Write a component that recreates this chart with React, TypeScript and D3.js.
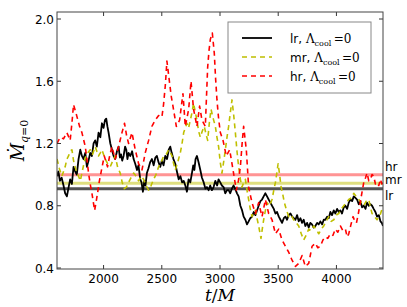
import React from 'react';
import * as d3 from 'd3';

// [t/M, Mdot] pairs
const lrData: [number, number][] = [
  [1600, 0.99], [1612, 1.02], [1625, 0.96], [1640, 0.98], [1656, 0.93], [1670, 0.88], [1685, 0.86],
  [1700, 0.92], [1713, 0.97], [1728, 0.94], [1742, 1.05], [1756, 1.02], [1770, 1.0], [1785, 1.1],
  [1800, 1.16], [1814, 1.12], [1828, 1.1], [1843, 1.14], [1857, 1.05], [1871, 1.09], [1885, 1.14],
  [1900, 1.12], [1914, 1.2], [1928, 1.22], [1942, 1.18], [1957, 1.27], [1972, 1.24], [1986, 1.33],
  [2000, 1.3], [2012, 1.35], [2023, 1.36], [2033, 1.31], [2043, 1.27], [2058, 1.2], [2072, 1.16],
  [2086, 1.12], [2100, 1.1], [2115, 1.15], [2129, 1.18], [2140, 1.11], [2150, 1.13], [2160, 1.09],
  [2172, 1.12], [2185, 1.18], [2195, 1.16], [2205, 1.1], [2215, 1.14], [2230, 1.12], [2245, 1.15],
  [2258, 1.1], [2272, 1.07], [2287, 1.03], [2300, 1.06], [2315, 0.97], [2326, 0.95], [2338, 0.89],
  [2350, 0.96], [2360, 0.93], [2372, 1.01], [2385, 1.04], [2400, 1.08], [2415, 1.1], [2430, 1.06],
  [2445, 1.11], [2458, 1.12], [2472, 1.08], [2487, 1.05], [2500, 1.09], [2515, 1.06], [2530, 1.12],
  [2545, 1.1], [2560, 1.16], [2573, 1.18], [2585, 1.14], [2600, 1.1], [2616, 1.07], [2630, 1.02],
  [2645, 0.97], [2660, 0.99], [2675, 0.95], [2688, 0.96], [2702, 0.93], [2716, 0.89], [2730, 0.97],
  [2745, 0.95], [2759, 1.01], [2770, 1.06], [2780, 1.03], [2790, 1.1], [2802, 1.12], [2816, 1.08],
  [2831, 1.03], [2845, 0.98], [2860, 0.95], [2875, 0.91], [2888, 0.92], [2902, 0.9], [2916, 0.93],
  [2930, 0.9], [2945, 0.92], [2960, 0.96], [2975, 0.93], [2988, 0.97], [3002, 0.95], [3016, 0.93],
  [3031, 0.92], [3045, 0.88], [3060, 0.9], [3074, 0.9], [3088, 0.88], [3102, 0.91], [3117, 0.93],
  [3130, 0.91], [3146, 0.88], [3160, 0.86], [3175, 0.8], [3190, 0.77], [3203, 0.73], [3218, 0.71],
  [3232, 0.68], [3246, 0.7], [3260, 0.72], [3275, 0.73], [3290, 0.76], [3304, 0.74], [3318, 0.77],
  [3332, 0.8], [3347, 0.83], [3361, 0.84], [3375, 0.86], [3390, 0.88], [3404, 0.86], [3418, 0.84],
  [3433, 0.82], [3447, 0.8], [3462, 0.78], [3476, 0.75], [3490, 0.76], [3505, 0.73], [3519, 0.71],
  [3533, 0.69], [3548, 0.72], [3562, 0.73], [3576, 0.71], [3590, 0.74], [3605, 0.75], [3620, 0.73],
  [3634, 0.72], [3648, 0.71], [3662, 0.74], [3676, 0.7], [3691, 0.72], [3705, 0.69], [3719, 0.71],
  [3733, 0.67], [3748, 0.69], [3762, 0.66], [3776, 0.69], [3790, 0.68], [3805, 0.66], [3819, 0.67],
  [3834, 0.69], [3848, 0.68], [3862, 0.7], [3877, 0.68], [3891, 0.71], [3905, 0.71], [3920, 0.73],
  [3934, 0.72], [3948, 0.76], [3962, 0.74], [3977, 0.77], [3991, 0.75], [4006, 0.78], [4020, 0.76],
  [4034, 0.77], [4048, 0.75], [4063, 0.79], [4077, 0.8], [4092, 0.78], [4106, 0.82], [4120, 0.84],
  [4135, 0.83], [4149, 0.86], [4163, 0.85], [4177, 0.84], [4192, 0.81], [4206, 0.83], [4220, 0.79],
  [4235, 0.8], [4250, 0.78], [4263, 0.82], [4278, 0.8], [4292, 0.81], [4306, 0.8], [4320, 0.78],
  [4335, 0.76], [4349, 0.73], [4364, 0.74], [4378, 0.7], [4390, 0.69], [4400, 0.67],
];

const mrData: [number, number][] = [
  [1600, 1.1], [1620, 1.04], [1642, 0.99], [1656, 1.02], [1670, 1.05], [1685, 1.1], [1699, 1.12],
  [1713, 1.15], [1728, 1.16], [1742, 1.09], [1756, 1.05], [1770, 1.01], [1785, 0.99], [1800, 0.96],
  [1814, 1.01], [1828, 1.06], [1843, 1.11], [1865, 1.14], [1885, 1.16], [1905, 1.13], [1928, 1.18],
  [1942, 1.15], [1957, 1.12], [1972, 1.14], [1986, 1.16], [2000, 1.13], [2014, 1.1], [2035, 1.07],
  [2057, 1.05], [2080, 1.09], [2100, 1.12], [2120, 1.05], [2143, 1.01], [2160, 0.95], [2178, 0.91],
  [2196, 0.92], [2215, 0.95], [2236, 0.98], [2258, 1.01], [2280, 0.99], [2301, 0.96], [2322, 0.99],
  [2344, 0.97], [2365, 0.93], [2387, 0.9], [2408, 0.93], [2430, 0.97], [2450, 1.0], [2473, 1.05],
  [2495, 1.08], [2516, 1.12], [2538, 1.13], [2559, 1.16], [2574, 1.14], [2588, 1.12], [2602, 1.07],
  [2616, 1.03], [2637, 1.08], [2659, 1.14], [2674, 1.2], [2688, 1.27], [2702, 1.3], [2716, 1.33],
  [2730, 1.3], [2745, 1.35], [2760, 1.4], [2773, 1.46], [2788, 1.4], [2802, 1.35], [2816, 1.28],
  [2831, 1.24], [2848, 1.28], [2865, 1.31], [2880, 1.26], [2894, 1.22], [2908, 1.33], [2923, 1.42],
  [2942, 1.36], [2960, 1.31], [2974, 1.24], [2988, 1.18], [3002, 1.08], [3017, 1.01], [3031, 1.08],
  [3046, 1.16], [3060, 1.24], [3074, 1.31], [3089, 1.4], [3103, 1.48], [3118, 1.38], [3132, 1.27],
  [3146, 1.15], [3160, 1.05], [3175, 0.97], [3189, 0.92], [3204, 0.95], [3218, 0.97], [3232, 0.9],
  [3246, 0.84], [3260, 0.78], [3275, 0.73], [3290, 0.76], [3304, 0.77], [3318, 0.72], [3332, 0.67],
  [3342, 0.63], [3352, 0.59], [3363, 0.65], [3375, 0.71], [3390, 0.77], [3404, 0.82], [3425, 0.8],
  [3447, 0.84], [3462, 0.9], [3476, 0.95], [3488, 1.01], [3499, 1.07], [3512, 1.0], [3525, 0.92],
  [3540, 0.87], [3553, 0.82], [3572, 0.77], [3591, 0.73], [3612, 0.74], [3633, 0.71], [3655, 0.69],
  [3676, 0.67], [3698, 0.62], [3719, 0.58], [3740, 0.61], [3762, 0.65], [3784, 0.64], [3805, 0.67],
  [3826, 0.65], [3848, 0.62], [3870, 0.65], [3891, 0.67], [3912, 0.7], [3934, 0.73], [3955, 0.7],
  [3977, 0.71], [3998, 0.74], [4020, 0.75], [4042, 0.78], [4063, 0.8], [4085, 0.82], [4106, 0.84],
  [4128, 0.85], [4149, 0.88], [4170, 0.86], [4192, 0.84], [4214, 0.82], [4235, 0.8], [4256, 0.83],
  [4278, 0.84], [4292, 0.79], [4306, 0.75], [4328, 0.73], [4349, 0.71], [4375, 0.74], [4400, 0.8],
];

const hrData: [number, number][] = [
  [1600, 1.2], [1627, 1.24], [1656, 1.23], [1685, 1.27], [1713, 1.22], [1728, 1.33], [1742, 1.45],
  [1765, 1.39], [1794, 1.31], [1814, 1.27], [1843, 1.18], [1857, 1.1], [1871, 1.01], [1885, 0.94],
  [1900, 0.88], [1923, 0.77], [1935, 0.82], [1948, 0.88], [1962, 0.95], [1977, 1.01], [2006, 1.12],
  [2034, 1.05], [2052, 1.12], [2072, 1.18], [2100, 1.1], [2129, 1.18], [2158, 1.27], [2180, 1.33],
  [2198, 1.25], [2215, 1.2], [2244, 1.27], [2272, 1.16], [2301, 1.07], [2330, 1.03], [2358, 1.14],
  [2387, 1.22], [2415, 1.31], [2444, 1.35], [2473, 1.38], [2501, 1.37], [2515, 1.45], [2530, 1.57],
  [2544, 1.73], [2567, 1.59], [2582, 1.5], [2596, 1.44], [2625, 1.31], [2653, 1.35], [2668, 1.44],
  [2682, 1.52], [2702, 1.31], [2731, 1.42], [2751, 1.6], [2773, 1.42], [2802, 1.31], [2825, 1.44],
  [2845, 1.35], [2874, 1.31], [2884, 1.5], [2894, 1.69], [2906, 1.8], [2917, 1.87], [2934, 1.91],
  [2951, 1.78], [2962, 1.62], [2974, 1.48], [2988, 1.36], [3003, 1.27], [3026, 1.22], [3054, 1.12],
  [3083, 1.16], [3112, 1.03], [3140, 0.9], [3158, 0.96], [3175, 1.05], [3190, 1.2], [3203, 1.31],
  [3226, 1.16], [3246, 0.92], [3260, 0.87], [3275, 0.82], [3304, 0.75], [3332, 0.82], [3361, 0.73],
  [3390, 0.84], [3418, 0.75], [3447, 0.71], [3476, 0.62], [3504, 0.65], [3533, 0.58], [3562, 0.54],
  [3591, 0.5], [3619, 0.45], [3648, 0.41], [3676, 0.43], [3705, 0.48], [3733, 0.41], [3762, 0.43],
  [3791, 0.54], [3819, 0.56], [3840, 0.53], [3862, 0.54], [3884, 0.58], [3905, 0.6], [3926, 0.59],
  [3948, 0.62], [3970, 0.61], [3991, 0.65], [4012, 0.63], [4034, 0.67], [4055, 0.64], [4077, 0.65],
  [4092, 0.6], [4106, 0.62], [4125, 0.68], [4143, 0.73], [4158, 0.7], [4172, 0.69], [4186, 0.74],
  [4200, 0.8], [4218, 0.88], [4235, 0.95], [4250, 0.98], [4263, 1.01], [4278, 0.96], [4292, 0.97],
  [4306, 1.0], [4320, 0.99], [4335, 0.94], [4349, 0.95], [4364, 0.93], [4378, 0.97], [4390, 0.94],
  [4400, 0.96],
];

// time-averaged levels drawn as thick translucent lines
const meanNames = ['hr', 'mr', 'lr'];
const meanValues = [1.0, 0.945, 0.91];

const xTicks = [2000, 2500, 3000, 3500, 4000];
const yTicks = [0.4, 0.8, 1.2, 1.6, 2.0];

const W = 407;
const H = 307;
const margin = { top: 12, right: 24, bottom: 38, left: 57 };

const sans = "'DejaVu Sans', sans-serif";
const serif = "'DejaVu Serif', serif";

export default function App() {
  const x = d3.scaleLinear().domain([1600, 4400]).range([margin.left, W - margin.right]);
  const y = d3.scaleLinear().domain([0.3936, 2.045]).range([H - margin.bottom, margin.top]);

  const line = d3.line<[number, number]>()
    .x(d => x(d[0]))
    .y(d => y(d[1]));

  const x0 = margin.left, x1 = W - margin.right;
  const y0 = margin.top, y1 = H - margin.bottom;

  const series = [
    { name: 'lr', data: lrData, color: '#000000', width: 1.8, dash: undefined },
    { name: 'mr', data: mrData, color: '#bfbf00', width: 1.6, dash: '5,4' },
    { name: 'hr', data: hrData, color: '#ff0000', width: 1.6, dash: '5,4' },
  ];
  const meanColors: Record<string, string> = {
    hr: 'rgba(255,60,60,0.55)',
    mr: 'rgba(191,191,0,0.5)',
    lr: 'rgba(40,40,40,0.8)',
  };
  const meanLabelDy: Record<string, number> = { hr: -4, mr: 1, lr: 11 };

  return (
    <svg width={W} height={H} style={{ position: 'absolute', left: 0, top: 0, background: '#fff' }}>
      <defs>
        <clipPath id="plot">
          <rect x={x0} y={y0} width={x1 - x0} height={y1 - y0} />
        </clipPath>
      </defs>

      <g clipPath="url(#plot)">
        {meanNames.map((n, i) => (
          <line key={n} x1={x0} x2={x1} y1={y(meanValues[i])} y2={y(meanValues[i])}
            stroke={meanColors[n]} strokeWidth={3} />
        ))}
        {series.map(s => (
          <path key={s.name} d={line(s.data) || ''} fill="none" stroke={s.color}
            strokeWidth={s.width} strokeDasharray={s.dash} strokeLinejoin="round" />
        ))}
      </g>

      {/* mean labels at right */}
      {meanNames.map((n, i) => (
        <text key={n} x={x1 + 2} y={y(meanValues[i]) + meanLabelDy[n]} fontFamily={sans} fontSize={12} fill="#000">{n}</text>
      ))}

      {/* ticks on all four sides */}
      {xTicks.map(t => (
        <g key={t}>
          <line x1={x(t)} x2={x(t)} y1={y1} y2={y1 - 4} stroke="#000" strokeWidth={0.8} />
          <line x1={x(t)} x2={x(t)} y1={y0} y2={y0 + 4} stroke="#000" strokeWidth={0.8} />
          <text x={x(t)} y={y1 + 14} textAnchor="middle" fontFamily={sans} fontSize={12}>{t}</text>
        </g>
      ))}
      {yTicks.map(t => (
        <g key={t}>
          <line x1={x0} x2={x0 + 4} y1={y(t)} y2={y(t)} stroke="#000" strokeWidth={0.8} />
          <line x1={x1} x2={x1 - 4} y1={y(t)} y2={y(t)} stroke="#000" strokeWidth={0.8} />
          <text x={x0 - 3} y={y(t) + 4.5} textAnchor="end" fontFamily={sans} fontSize={12}>{t.toFixed(1)}</text>
        </g>
      ))}

      <rect x={x0} y={y0} width={x1 - x0} height={y1 - y0} fill="none" stroke="#444" strokeWidth={1} />

      {/* legend */}
      <g>
        <rect x={228} y={22} width={143} height={71} fill="#fff" stroke="#888" strokeWidth={1} />
        {series.map((s, i) => {
          const ly = 38 + i * 19;
          return (
            <g key={s.name}>
              <line x1={242} x2={272} y1={ly} y2={ly} stroke={s.color} strokeWidth={s.width}
                strokeDasharray={s.dash} />
              <text x={290} y={ly + 5} fontFamily={sans} fontSize={12}>
                {s.name + ', '}
                <tspan fontFamily={serif}>Λ</tspan>
                <tspan fontFamily={serif} fontSize={8} dy={3}>cool</tspan>
                <tspan fontFamily={serif} dy={-3}>{'\u2009=0'}</tspan>
              </text>
            </g>
          );
        })}
      </g>

      {/* axis labels */}
      <text x={(x0 + x1) / 2} y={H - 6} textAnchor="middle" fontFamily={serif} fontStyle="italic" fontSize={17}>
        t<tspan fontStyle="normal">/</tspan>M
      </text>
      <text transform={`translate(24,${(y0 + y1) / 2}) rotate(-90)`} textAnchor="middle" fontFamily={serif} fontSize={18}>
        <tspan fontStyle="italic">{'\u1E40'}</tspan>
        <tspan fontSize={11} dy={4} fontStyle="italic">q</tspan>
        <tspan fontSize={11}>=0</tspan>
      </text>
    </svg>
  );
}
